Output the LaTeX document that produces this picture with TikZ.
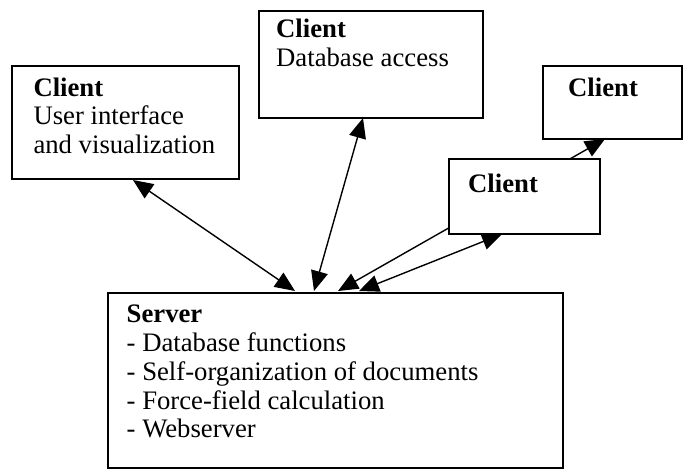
\documentclass[tikz,border=0pt]{standalone}
\usepackage{fontspec}
\setmainfont{Liberation Serif}
\usetikzlibrary{arrows.meta}
\begin{document}
\begin{tikzpicture}[x=1pt,y=-1pt,
  box/.style={draw, line width=1.6pt, fill=white, rectangle, inner sep=0pt, anchor=north west},
  label/.style={anchor=base west, align=left, inner sep=0pt,
    font=\fontsize{26.7}{28.8}\selectfont},
  link/.style={line width=1.4pt, {Triangle[length=20pt,width=17pt]}-{Triangle[length=20pt,width=17pt]}}]
\useasboundingbox (0,0) rectangle (683,475);

% server box and its link to the far right client (passes behind the middle client)
\node[box, minimum width=455pt, minimum height=175pt] (srv) at (107,292) {};
\node[box, minimum width=139pt, minimum height=73pt] (cr) at (542,65) {};
\coordinate (s3) at (338,291);
\coordinate (r3) at (605,139);
\draw[link] (s3) -- (r3);

% remaining clients
\node[box, minimum width=227pt, minimum height=113pt] (cui) at (11,65) {};
\node[box, minimum width=224pt, minimum height=107pt] (cdb) at (258,10) {};
\node[box, minimum width=151pt, minimum height=75pt] (cm) at (448,158) {};

% texts (anchored at the baseline of their last line)
\node[label] (tsrv) at (126.5,437.9) {\textbf{Server}\\- Database functions\\- Self-organization of documents\\- Force-field calculation\\- Webserver};
\node[label] (tui) at (33.3,153.6) {\textbf{Client}\\User interface\\and visualization};
\node[label] (tdb) at (276,66.5) {\textbf{Client}\\Database access};
\node[label] (tcr) at (568,96.7) {\textbf{Client}};
\node[label] (tcm) at (468,192) {\textbf{Client}};

% links from the clients to the server
\coordinate (u1) at (133,180);
\coordinate (s1) at (295,291);
\coordinate (d2) at (363,118);
\coordinate (s2) at (314,291);
\coordinate (s4) at (359,291);
\coordinate (m4) at (502,234);
\draw[link] (u1) -- (s1);
\draw[link] (d2) -- (s2);
\draw[link] (s4) -- (m4);
\end{tikzpicture}
\end{document}
